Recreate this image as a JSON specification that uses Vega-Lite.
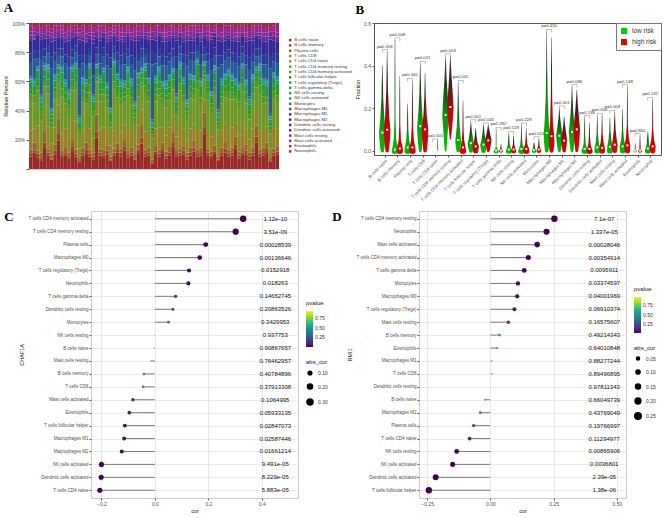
{
"$schema":"https://vega.github.io/schema/vega-lite/v6.json",
"background":"white",
"padding":2,
"config":{
 "font":"Liberation Sans",
 "view":{"stroke":null},
 "title":{"font":"Liberation Serif","fontSize":13,"fontWeight":"bold","anchor":"start","frame":"bounds","color":"#000"},
 "axis":{"labelFont":"Liberation Sans","titleFont":"Liberation Sans","labelColor":"#4d4d4d","titleColor":"#222","titleFontWeight":"normal","tickColor":"#555","domainColor":"#555","labelFontSize":5,"titleFontSize":5.5,"tickSize":2,"labelPadding":1.5,"titlePadding":3},
 "legend":{"labelFont":"Liberation Sans","titleFont":"Liberation Sans","titleFontWeight":"normal","labelFontSize":5,"titleFontSize":6,"labelColor":"#333","titleColor":"#222","layout":{"right":{"anchor":"middle","direction":"vertical","margin":8}}}
},
"datasets":{
"samples":[
{"id":1,"a":9,"b":2,"c":3,"d":14,"f":22,"g":4,"h":4,"i":5,"k":2,"l":1,"m":1,"n":10,"o":7,"p":9,"q":2,"r":2,"s":3,"t":4,"v":2},
{"id":2,"a":12,"b":1,"c":6,"d":10,"f":18,"g":6,"h":3,"i":4,"k":2,"l":2,"m":1,"n":14,"o":6,"p":8,"q":1,"r":2,"s":3,"t":3,"v":3},
{"id":3,"a":8,"b":3,"c":2,"d":18,"f":25,"g":3,"h":5,"i":6,"k":1,"l":1,"m":1,"n":6,"o":5,"p":10,"q":2,"r":1,"s":2,"t":3,"v":2},
{"id":4,"a":6,"b":2,"c":4,"d":8,"f":15,"g":8,"h":3,"i":3,"k":2,"l":2,"m":2,"n":25,"o":8,"p":8,"q":2,"r":2,"s":2,"t":3,"v":3},
{"id":5,"a":15,"b":4,"c":8,"d":12,"f":20,"g":3,"h":4,"i":5,"k":2,"l":1,"m":1,"n":5,"o":6,"p":7,"q":1,"r":2,"s":3,"t":3,"v":2},
{"id":6,"a":10,"b":2,"c":3,"d":16,"f":24,"g":5,"h":5,"i":6,"k":2,"l":2,"m":1,"n":8,"o":6,"p":5,"q":2,"r":1,"s":2,"t":4,"v":2},
{"id":7,"a":7,"b":1,"c":2,"d":9,"f":12,"g":4,"h":3,"i":3,"k":2,"l":2,"m":1,"n":30,"o":9,"p":11,"q":2,"r":2,"s":3,"t":3,"v":4},
{"id":8,"a":11,"b":3,"c":4,"d":13,"f":21,"g":5,"h":4,"i":5,"k":2,"l":2,"m":1,"n":9,"o":7,"p":9,"q":2,"r":2,"s":3,"t":4,"v":2},
{"id":9,"a":20,"b":5,"c":10,"d":10,"f":15,"g":3,"h":3,"i":4,"k":1,"l":1,"m":1,"n":6,"o":5,"p":8,"q":1,"r":2,"s":2,"t":3,"v":2},
{"id":10,"a":9,"b":2,"c":3,"d":12,"f":28,"g":6,"h":5,"i":7,"k":2,"l":2,"m":1,"n":7,"o":6,"p":7,"q":2,"r":2,"s":3,"t":3,"v":2},
{"id":11,"a":10,"b":2,"c":4,"d":15,"f":19,"g":4,"h":4,"i":5,"k":2,"l":2,"m":1,"n":12,"o":7,"p":10,"q":2,"r":2,"s":3,"t":4,"v":3},
{"id":12,"a":8,"b":1,"c":3,"d":11,"f":17,"g":5,"h":3,"i":4,"k":3,"l":2,"m":2,"n":16,"o":8,"p":12,"q":2,"r":2,"s":3,"t":3,"v":3},
{"id":13,"a":13,"b":3,"c":5,"d":14,"f":22,"g":4,"h":4,"i":6,"k":2,"l":1,"m":1,"n":6,"o":6,"p":8,"q":1,"r":2,"s":3,"t":3,"v":2},
{"id":14,"a":9,"b":2,"c":3,"d":20,"f":23,"g":5,"h":5,"i":5,"k":2,"l":2,"m":1,"n":7,"o":5,"p":6,"q":2,"r":1,"s":2,"t":3,"v":2},
{"id":15,"a":5,"b":1,"c":2,"d":7,"f":10,"g":3,"h":2,"i":3,"k":2,"l":2,"m":2,"n":35,"o":9,"p":10,"q":2,"r":3,"s":2,"t":3,"v":4},
{"id":16,"a":10,"b":2,"c":4,"d":13,"f":20,"g":5,"h":4,"i":5,"k":2,"l":2,"m":1,"n":10,"o":7,"p":10,"q":2,"r":2,"s":3,"t":4,"v":2},
{"id":17,"a":12,"b":3,"c":5,"d":12,"f":18,"g":4,"h":4,"i":5,"k":2,"l":2,"m":1,"n":11,"o":7,"p":9,"q":2,"r":2,"s":4,"t":5,"v":3},
{"id":18,"a":9,"b":2,"c":3,"d":15,"f":26,"g":6,"h":5,"i":6,"k":2,"l":1,"m":1,"n":6,"o":5,"p":7,"q":2,"r":2,"s":2,"t":3,"v":2},
{"id":19,"a":7,"b":2,"c":3,"d":10,"f":16,"g":4,"h":3,"i":4,"k":2,"l":2,"m":1,"n":14,"o":9,"p":14,"q":3,"r":2,"s":3,"t":4,"v":3},
{"id":20,"a":22,"b":4,"c":12,"d":9,"f":14,"g":3,"h":3,"i":4,"k":1,"l":1,"m":1,"n":6,"o":5,"p":7,"q":1,"r":2,"s":2,"t":3,"v":2},
{"id":21,"a":10,"b":2,"c":3,"d":14,"f":21,"g":5,"h":4,"i":5,"k":2,"l":2,"m":1,"n":9,"o":7,"p":10,"q":2,"r":2,"s":3,"t":4,"v":2},
{"id":22,"a":8,"b":2,"c":4,"d":16,"f":24,"g":4,"h":5,"i":6,"k":2,"l":2,"m":1,"n":8,"o":6,"p":8,"q":2,"r":1,"s":2,"t":3,"v":2},
{"id":23,"a":11,"b":3,"c":4,"d":11,"f":18,"g":5,"h":4,"i":4,"k":2,"l":2,"m":2,"n":13,"o":8,"p":10,"q":2,"r":2,"s":3,"t":4,"v":3},
{"id":24,"a":6,"b":1,"c":2,"d":8,"f":13,"g":4,"h":3,"i":3,"k":2,"l":2,"m":1,"n":28,"o":8,"p":12,"q":2,"r":2,"s":3,"t":3,"v":3},
{"id":25,"a":10,"b":2,"c":3,"d":13,"f":30,"g":6,"h":5,"i":7,"k":2,"l":1,"m":1,"n":5,"o":5,"p":6,"q":2,"r":2,"s":2,"t":3,"v":2},
{"id":26,"a":12,"b":2,"c":5,"d":15,"f":19,"g":4,"h":4,"i":5,"k":2,"l":2,"m":1,"n":9,"o":6,"p":9,"q":2,"r":2,"s":3,"t":4,"v":2},
{"id":27,"a":9,"b":3,"c":3,"d":12,"f":20,"g":5,"h":4,"i":5,"k":2,"l":2,"m":1,"n":11,"o":7,"p":10,"q":2,"r":2,"s":3,"t":4,"v":3},
{"id":28,"a":14,"b":3,"c":6,"d":10,"f":17,"g":4,"h":3,"i":4,"k":2,"l":2,"m":1,"n":12,"o":8,"p":9,"q":2,"r":2,"s":3,"t":4,"v":3},
{"id":29,"a":8,"b":2,"c":3,"d":18,"f":22,"g":5,"h":5,"i":6,"k":2,"l":2,"m":1,"n":7,"o":6,"p":8,"q":2,"r":1,"s":2,"t":3,"v":2},
{"id":30,"a":10,"b":2,"c":4,"d":12,"f":20,"g":5,"h":4,"i":5,"k":2,"l":2,"m":1,"n":10,"o":7,"p":10,"q":2,"r":2,"s":3,"t":4,"v":3},
{"id":31,"a":7,"b":1,"c":3,"d":9,"f":14,"g":4,"h":3,"i":4,"k":2,"l":2,"m":2,"n":22,"o":9,"p":13,"q":2,"r":2,"s":3,"t":3,"v":3},
{"id":32,"a":11,"b":3,"c":4,"d":14,"f":21,"g":5,"h":4,"i":5,"k":2,"l":1,"m":1,"n":8,"o":6,"p":9,"q":2,"r":2,"s":3,"t":4,"v":2},
{"id":33,"a":18,"b":4,"c":9,"d":11,"f":16,"g":3,"h":3,"i":4,"k":2,"l":1,"m":1,"n":7,"o":6,"p":8,"q":1,"r":2,"s":2,"t":3,"v":2},
{"id":34,"a":9,"b":2,"c":3,"d":13,"f":27,"g":6,"h":5,"i":6,"k":2,"l":2,"m":1,"n":6,"o":5,"p":7,"q":2,"r":2,"s":2,"t":3,"v":2},
{"id":35,"a":10,"b":2,"c":4,"d":15,"f":19,"g":4,"h":4,"i":5,"k":2,"l":2,"m":1,"n":10,"o":7,"p":9,"q":2,"r":2,"s":3,"t":4,"v":3},
{"id":36,"a":4,"b":1,"c":2,"d":6,"f":9,"g":3,"h":2,"i":3,"k":2,"l":2,"m":2,"n":40,"o":9,"p":9,"q":2,"r":2,"s":2,"t":3,"v":3},
{"id":37,"a":11,"b":2,"c":4,"d":13,"f":20,"g":5,"h":4,"i":5,"k":2,"l":2,"m":1,"n":9,"o":7,"p":10,"q":2,"r":2,"s":3,"t":4,"v":2},
{"id":38,"a":9,"b":2,"c":3,"d":16,"f":23,"g":5,"h":5,"i":6,"k":2,"l":2,"m":1,"n":7,"o":6,"p":8,"q":2,"r":1,"s":2,"t":3,"v":2},
{"id":39,"a":12,"b":3,"c":5,"d":11,"f":18,"g":4,"h":4,"i":4,"k":2,"l":2,"m":1,"n":12,"o":8,"p":10,"q":2,"r":2,"s":3,"t":4,"v":3},
{"id":40,"a":8,"b":2,"c":3,"d":12,"f":21,"g":5,"h":4,"i":5,"k":3,"l":2,"m":1,"n":11,"o":7,"p":11,"q":2,"r":2,"s":3,"t":4,"v":3},
{"id":41,"a":10,"b":2,"c":4,"d":14,"f":20,"g":5,"h":4,"i":5,"k":2,"l":2,"m":1,"n":9,"o":6,"p":9,"q":2,"r":2,"s":3,"t":4,"v":2},
{"id":42,"a":16,"b":3,"c":7,"d":12,"f":18,"g":4,"h":3,"i":4,"k":2,"l":1,"m":1,"n":8,"o":6,"p":8,"q":1,"r":2,"s":2,"t":3,"v":2},
{"id":43,"a":9,"b":2,"c":3,"d":10,"f":15,"g":4,"h":3,"i":4,"k":2,"l":2,"m":2,"n":18,"o":9,"p":12,"q":2,"r":2,"s":3,"t":3,"v":3},
{"id":44,"a":10,"b":2,"c":3,"d":17,"f":25,"g":5,"h":5,"i":6,"k":2,"l":2,"m":1,"n":6,"o":5,"p":7,"q":2,"r":1,"s":2,"t":3,"v":2},
{"id":45,"a":11,"b":3,"c":4,"d":13,"f":20,"g":5,"h":4,"i":5,"k":2,"l":2,"m":1,"n":10,"o":7,"p":10,"q":2,"r":2,"s":3,"t":4,"v":3},
{"id":46,"a":7,"b":2,"c":3,"d":9,"f":14,"g":4,"h":3,"i":4,"k":2,"l":2,"m":1,"n":24,"o":8,"p":11,"q":2,"r":2,"s":3,"t":3,"v":3},
{"id":47,"a":10,"b":2,"c":4,"d":14,"f":22,"g":5,"h":4,"i":5,"k":2,"l":2,"m":1,"n":9,"o":6,"p":9,"q":2,"r":2,"s":3,"t":4,"v":2},
{"id":48,"a":13,"b":3,"c":5,"d":12,"f":19,"g":4,"h":4,"i":5,"k":2,"l":2,"m":1,"n":10,"o":7,"p":9,"q":2,"r":2,"s":3,"t":4,"v":2},
{"id":49,"a":9,"b":2,"c":3,"d":15,"f":29,"g":6,"h":5,"i":7,"k":2,"l":1,"m":1,"n":5,"o":5,"p":6,"q":2,"r":1,"s":2,"t":3,"v":2},
{"id":50,"a":10,"b":2,"c":4,"d":13,"f":20,"g":5,"h":4,"i":5,"k":2,"l":2,"m":1,"n":11,"o":7,"p":10,"q":2,"r":2,"s":3,"t":4,"v":3},
{"id":51,"a":24,"b":5,"c":11,"d":9,"f":14,"g":3,"h":3,"i":4,"k":1,"l":1,"m":1,"n":5,"o":5,"p":7,"q":1,"r":2,"s":2,"t":3,"v":2},
{"id":52,"a":10,"b":2,"c":3,"d":14,"f":21,"g":5,"h":4,"i":5,"k":2,"l":2,"m":1,"n":9,"o":6,"p":9,"q":2,"r":2,"s":3,"t":4,"v":2},
{"id":53,"a":8,"b":2,"c":3,"d":11,"f":17,"g":4,"h":3,"i":4,"k":2,"l":2,"m":1,"n":15,"o":8,"p":13,"q":2,"r":2,"s":3,"t":4,"v":3},
{"id":54,"a":11,"b":2,"c":4,"d":16,"f":22,"g":5,"h":5,"i":6,"k":2,"l":2,"m":1,"n":7,"o":6,"p":8,"q":2,"r":1,"s":2,"t":3,"v":2},
{"id":55,"a":6,"b":1,"c":2,"d":8,"f":12,"g":3,"h":3,"i":3,"k":2,"l":2,"m":2,"n":31,"o":9,"p":11,"q":2,"r":2,"s":3,"t":3,"v":3},
{"id":56,"a":10,"b":2,"c":4,"d":13,"f":20,"g":5,"h":4,"i":5,"k":2,"l":2,"m":1,"n":10,"o":7,"p":10,"q":2,"r":2,"s":3,"t":4,"v":3},
{"id":57,"a":12,"b":3,"c":5,"d":14,"f":19,"g":4,"h":4,"i":5,"k":2,"l":2,"m":1,"n":9,"o":6,"p":9,"q":2,"r":2,"s":3,"t":4,"v":2},
{"id":58,"a":9,"b":2,"c":3,"d":12,"f":24,"g":6,"h":5,"i":6,"k":2,"l":2,"m":1,"n":8,"o":6,"p":8,"q":2,"r":2,"s":2,"t":3,"v":2},
{"id":59,"a":10,"b":2,"c":4,"d":15,"f":21,"g":5,"h":4,"i":5,"k":2,"l":2,"m":1,"n":9,"o":7,"p":9,"q":2,"r":2,"s":3,"t":4,"v":2},
{"id":60,"a":15,"b":3,"c":6,"d":11,"f":17,"g":4,"h":3,"i":4,"k":2,"l":2,"m":1,"n":11,"o":7,"p":9,"q":2,"r":2,"s":3,"t":4,"v":3},
{"id":61,"a":8,"b":2,"c":3,"d":13,"f":20,"g":5,"h":4,"i":5,"k":2,"l":2,"m":1,"n":12,"o":8,"p":11,"q":2,"r":2,"s":3,"t":4,"v":3},
{"id":62,"a":10,"b":2,"c":3,"d":18,"f":23,"g":5,"h":5,"i":6,"k":2,"l":1,"m":1,"n":7,"o":5,"p":7,"q":2,"r":1,"s":2,"t":3,"v":2},
{"id":63,"a":11,"b":3,"c":4,"d":12,"f":19,"g":4,"h":4,"i":5,"k":2,"l":2,"m":1,"n":11,"o":7,"p":10,"q":2,"r":2,"s":3,"t":4,"v":3},
{"id":64,"a":7,"b":2,"c":3,"d":10,"f":15,"g":4,"h":3,"i":4,"k":2,"l":2,"m":2,"n":20,"o":9,"p":13,"q":2,"r":2,"s":3,"t":3,"v":3},
{"id":65,"a":10,"b":2,"c":4,"d":14,"f":21,"g":5,"h":4,"i":5,"k":2,"l":2,"m":1,"n":9,"o":6,"p":10,"q":2,"r":2,"s":3,"t":4,"v":2},
{"id":66,"a":19,"b":4,"c":8,"d":11,"f":16,"g":4,"h":3,"i":4,"k":2,"l":1,"m":1,"n":7,"o":6,"p":8,"q":1,"r":2,"s":2,"t":3,"v":2},
{"id":67,"a":9,"b":2,"c":3,"d":14,"f":26,"g":6,"h":5,"i":6,"k":2,"l":2,"m":1,"n":6,"o":5,"p":7,"q":2,"r":2,"s":2,"t":3,"v":2},
{"id":68,"a":10,"b":2,"c":4,"d":13,"f":20,"g":5,"h":4,"i":5,"k":2,"l":2,"m":1,"n":10,"o":7,"p":10,"q":2,"r":2,"s":3,"t":4,"v":3},
{"id":69,"a":12,"b":3,"c":5,"d":12,"f":18,"g":4,"h":4,"i":5,"k":2,"l":2,"m":1,"n":11,"o":7,"p":10,"q":2,"r":2,"s":3,"t":4,"v":3},
{"id":70,"a":5,"b":1,"c":2,"d":7,"f":11,"g":3,"h":2,"i":3,"k":2,"l":2,"m":2,"n":33,"o":9,"p":12,"q":2,"r":2,"s":2,"t":3,"v":3},
{"id":71,"a":10,"b":2,"c":3,"d":15,"f":22,"g":5,"h":4,"i":5,"k":2,"l":2,"m":1,"n":8,"o":6,"p":9,"q":2,"r":2,"s":3,"t":4,"v":2},
{"id":72,"a":11,"b":2,"c":4,"d":13,"f":20,"g":5,"h":4,"i":5,"k":2,"l":2,"m":1,"n":10,"o":7,"p":9,"q":2,"r":2,"s":3,"t":4,"v":3}
],
"vio":[
{"t":"a","g":"L","y":0,"w":0.5},{"t":"a","g":"L","y":0.05,"w":0.9},{"t":"a","g":"L","y":0.09,"w":1},{"t":"a","g":"L","y":0.15,"w":0.6},{"t":"a","g":"L","y":0.25,"w":0.2},{"t":"a","g":"L","y":0.40,"w":0},
{"t":"a","g":"H","y":0,"w":0.5},{"t":"a","g":"H","y":0.06,"w":0.9},{"t":"a","g":"H","y":0.10,"w":1},{"t":"a","g":"H","y":0.16,"w":0.6},{"t":"a","g":"H","y":0.28,"w":0.2},{"t":"a","g":"H","y":0.465,"w":0},
{"t":"b","g":"L","y":0,"w":1},{"t":"b","g":"L","y":0.02,"w":0.7},{"t":"b","g":"L","y":0.06,"w":0.3},{"t":"b","g":"L","y":0.15,"w":0.1},{"t":"b","g":"L","y":0.52,"w":0},
{"t":"b","g":"H","y":0,"w":1},{"t":"b","g":"H","y":0.02,"w":0.8},{"t":"b","g":"H","y":0.05,"w":0.3},{"t":"b","g":"H","y":0.12,"w":0.1},{"t":"b","g":"H","y":0.35,"w":0},
{"t":"c","g":"L","y":0,"w":1},{"t":"c","g":"L","y":0.02,"w":0.8},{"t":"c","g":"L","y":0.05,"w":0.4},{"t":"c","g":"L","y":0.1,"w":0.15},{"t":"c","g":"L","y":0.22,"w":0},
{"t":"c","g":"H","y":0,"w":1},{"t":"c","g":"H","y":0.02,"w":0.8},{"t":"c","g":"H","y":0.05,"w":0.4},{"t":"c","g":"H","y":0.12,"w":0.12},{"t":"c","g":"H","y":0.33,"w":0},
{"t":"d","g":"L","y":0,"w":0.4},{"t":"d","g":"L","y":0.06,"w":0.8},{"t":"d","g":"L","y":0.11,"w":1},{"t":"d","g":"L","y":0.17,"w":0.6},{"t":"d","g":"L","y":0.27,"w":0.2},{"t":"d","g":"L","y":0.41,"w":0},
{"t":"d","g":"H","y":0,"w":0.5},{"t":"d","g":"H","y":0.06,"w":0.9},{"t":"d","g":"H","y":0.10,"w":1},{"t":"d","g":"H","y":0.16,"w":0.5},{"t":"d","g":"H","y":0.25,"w":0.15},{"t":"d","g":"H","y":0.365,"w":0},
{"t":"e","g":"L","y":0,"w":0.2},{"t":"e","g":"L","y":0.003,"w":0},
{"t":"e","g":"H","y":0,"w":0.2},{"t":"e","g":"H","y":0.01,"w":0.05},{"t":"e","g":"H","y":0.05,"w":0},
{"t":"f","g":"L","y":0,"w":0.2},{"t":"f","g":"L","y":0.08,"w":0.6},{"t":"f","g":"L","y":0.16,"w":1},{"t":"f","g":"L","y":0.25,"w":0.7},{"t":"f","g":"L","y":0.33,"w":0.3},{"t":"f","g":"L","y":0.44,"w":0},
{"t":"f","g":"H","y":0.055,"w":0.1},{"t":"f","g":"H","y":0.12,"w":0.6},{"t":"f","g":"H","y":0.2,"w":1},{"t":"f","g":"H","y":0.27,"w":0.7},{"t":"f","g":"H","y":0.35,"w":0.3},{"t":"f","g":"H","y":0.445,"w":0},
{"t":"g","g":"L","y":0,"w":0.5},{"t":"g","g":"L","y":0.04,"w":0.9},{"t":"g","g":"L","y":0.07,"w":0.7},{"t":"g","g":"L","y":0.12,"w":0.35},{"t":"g","g":"L","y":0.2,"w":0.12},{"t":"g","g":"L","y":0.32,"w":0},
{"t":"g","g":"H","y":0,"w":1},{"t":"g","g":"H","y":0.02,"w":0.7},{"t":"g","g":"H","y":0.05,"w":0.3},{"t":"g","g":"H","y":0.1,"w":0.1},{"t":"g","g":"H","y":0.235,"w":0},
{"t":"h","g":"L","y":0,"w":0.6},{"t":"h","g":"L","y":0.03,"w":1},{"t":"h","g":"L","y":0.06,"w":0.6},{"t":"h","g":"L","y":0.09,"w":0.25},{"t":"h","g":"L","y":0.135,"w":0},
{"t":"h","g":"H","y":0,"w":0.8},{"t":"h","g":"H","y":0.02,"w":1},{"t":"h","g":"H","y":0.04,"w":0.5},{"t":"h","g":"H","y":0.07,"w":0.2},{"t":"h","g":"H","y":0.105,"w":0},
{"t":"i","g":"L","y":0,"w":0.7},{"t":"i","g":"L","y":0.025,"w":1},{"t":"i","g":"L","y":0.05,"w":0.6},{"t":"i","g":"L","y":0.08,"w":0.25},{"t":"i","g":"L","y":0.12,"w":0},
{"t":"i","g":"H","y":0,"w":0.4},{"t":"i","g":"H","y":0.03,"w":0.8},{"t":"i","g":"H","y":0.05,"w":1},{"t":"i","g":"H","y":0.08,"w":0.5},{"t":"i","g":"H","y":0.12,"w":0},
{"t":"j","g":"L","y":0,"w":0.8},{"t":"j","g":"L","y":0.005,"w":0.3},{"t":"j","g":"L","y":0.02,"w":0.05},{"t":"j","g":"L","y":0.10,"w":0},
{"t":"j","g":"H","y":0,"w":0.6},{"t":"j","g":"H","y":0.005,"w":0.2},{"t":"j","g":"H","y":0.03,"w":0},
{"t":"k","g":"L","y":0,"w":0.9},{"t":"k","g":"L","y":0.01,"w":0.6},{"t":"k","g":"L","y":0.03,"w":0.2},{"t":"k","g":"L","y":0.08,"w":0},
{"t":"k","g":"H","y":0,"w":0.8},{"t":"k","g":"H","y":0.01,"w":0.5},{"t":"k","g":"H","y":0.03,"w":0.15},{"t":"k","g":"H","y":0.07,"w":0},
{"t":"l","g":"L","y":0,"w":1},{"t":"l","g":"L","y":0.01,"w":0.7},{"t":"l","g":"L","y":0.03,"w":0.3},{"t":"l","g":"L","y":0.06,"w":0.1},{"t":"l","g":"L","y":0.12,"w":0},
{"t":"l","g":"H","y":0,"w":1},{"t":"l","g":"H","y":0.01,"w":0.8},{"t":"l","g":"H","y":0.03,"w":0.3},{"t":"l","g":"H","y":0.06,"w":0.1},{"t":"l","g":"H","y":0.105,"w":0},
{"t":"m","g":"L","y":0,"w":0.7},{"t":"m","g":"L","y":0.01,"w":0.3},{"t":"m","g":"L","y":0.04,"w":0},
{"t":"m","g":"H","y":0,"w":0.7},{"t":"m","g":"H","y":0.01,"w":0.4},{"t":"m","g":"H","y":0.025,"w":0.15},{"t":"m","g":"H","y":0.055,"w":0},
{"t":"n","g":"L","y":0,"w":0.5},{"t":"n","g":"L","y":0.04,"w":0.8},{"t":"n","g":"L","y":0.08,"w":0.9},{"t":"n","g":"L","y":0.14,"w":0.6},{"t":"n","g":"L","y":0.25,"w":0.25},{"t":"n","g":"L","y":0.4,"w":0.07},{"t":"n","g":"L","y":0.56,"w":0},
{"t":"n","g":"H","y":0,"w":0.6},{"t":"n","g":"H","y":0.04,"w":0.9},{"t":"n","g":"H","y":0.07,"w":0.8},{"t":"n","g":"H","y":0.13,"w":0.4},{"t":"n","g":"H","y":0.25,"w":0.15},{"t":"n","g":"H","y":0.53,"w":0},
{"t":"o","g":"L","y":0,"w":0.4},{"t":"o","g":"L","y":0.04,"w":0.8},{"t":"o","g":"L","y":0.07,"w":1},{"t":"o","g":"L","y":0.11,"w":0.6},{"t":"o","g":"L","y":0.15,"w":0.2},{"t":"o","g":"L","y":0.20,"w":0},
{"t":"o","g":"H","y":0,"w":0.5},{"t":"o","g":"H","y":0.03,"w":0.8},{"t":"o","g":"H","y":0.05,"w":0.9},{"t":"o","g":"H","y":0.08,"w":0.6},{"t":"o","g":"H","y":0.12,"w":0.2},{"t":"o","g":"H","y":0.16,"w":0},
{"t":"p","g":"L","y":0,"w":0.4},{"t":"p","g":"L","y":0.05,"w":0.8},{"t":"p","g":"L","y":0.09,"w":1},{"t":"p","g":"L","y":0.14,"w":0.6},{"t":"p","g":"L","y":0.2,"w":0.25},{"t":"p","g":"L","y":0.30,"w":0},
{"t":"p","g":"H","y":0,"w":0.4},{"t":"p","g":"H","y":0.05,"w":0.8},{"t":"p","g":"H","y":0.10,"w":1},{"t":"p","g":"H","y":0.15,"w":0.7},{"t":"p","g":"H","y":0.21,"w":0.3},{"t":"p","g":"H","y":0.285,"w":0},
{"t":"q","g":"L","y":0,"w":1},{"t":"q","g":"L","y":0.01,"w":0.7},{"t":"q","g":"L","y":0.03,"w":0.3},{"t":"q","g":"L","y":0.07,"w":0.1},{"t":"q","g":"L","y":0.155,"w":0},
{"t":"q","g":"H","y":0,"w":1},{"t":"q","g":"H","y":0.01,"w":0.7},{"t":"q","g":"H","y":0.03,"w":0.3},{"t":"q","g":"H","y":0.07,"w":0.1},{"t":"q","g":"H","y":0.13,"w":0},
{"t":"r","g":"L","y":0,"w":0.9},{"t":"r","g":"L","y":0.015,"w":0.8},{"t":"r","g":"L","y":0.04,"w":0.4},{"t":"r","g":"L","y":0.08,"w":0.12},{"t":"r","g":"L","y":0.16,"w":0},
{"t":"r","g":"H","y":0,"w":0.9},{"t":"r","g":"H","y":0.015,"w":0.8},{"t":"r","g":"H","y":0.04,"w":0.4},{"t":"r","g":"H","y":0.08,"w":0.12},{"t":"r","g":"H","y":0.165,"w":0},
{"t":"s","g":"L","y":0,"w":0.9},{"t":"s","g":"L","y":0.02,"w":0.8},{"t":"s","g":"L","y":0.05,"w":0.4},{"t":"s","g":"L","y":0.09,"w":0.12},{"t":"s","g":"L","y":0.155,"w":0},
{"t":"s","g":"H","y":0,"w":0.7},{"t":"s","g":"H","y":0.025,"w":0.9},{"t":"s","g":"H","y":0.05,"w":0.6},{"t":"s","g":"H","y":0.1,"w":0.2},{"t":"s","g":"H","y":0.18,"w":0},
{"t":"t","g":"L","y":0,"w":0.8},{"t":"t","g":"L","y":0.02,"w":0.9},{"t":"t","g":"L","y":0.05,"w":0.4},{"t":"t","g":"L","y":0.1,"w":0.1},{"t":"t","g":"L","y":0.195,"w":0},
{"t":"t","g":"H","y":0,"w":0.8},{"t":"t","g":"H","y":0.025,"w":0.9},{"t":"t","g":"H","y":0.06,"w":0.4},{"t":"t","g":"H","y":0.12,"w":0.1},{"t":"t","g":"H","y":0.30,"w":0},
{"t":"u","g":"L","y":0,"w":0.5},{"t":"u","g":"L","y":0.003,"w":0.1},{"t":"u","g":"L","y":0.035,"w":0},
{"t":"u","g":"H","y":0,"w":0.6},{"t":"u","g":"H","y":0.005,"w":0.15},{"t":"u","g":"H","y":0.07,"w":0},
{"t":"v","g":"L","y":0,"w":0.9},{"t":"v","g":"L","y":0.01,"w":0.7},{"t":"v","g":"L","y":0.03,"w":0.3},{"t":"v","g":"L","y":0.09,"w":0},
{"t":"v","g":"H","y":0,"w":0.8},{"t":"v","g":"H","y":0.02,"w":0.9},{"t":"v","g":"H","y":0.05,"w":0.4},{"t":"v","g":"H","y":0.1,"w":0.1},{"t":"v","g":"H","y":0.24,"w":0}
],
"med":[
{"t":"a","l":0.085,"h":0.098},{"t":"b","l":0.005,"h":0.01},{"t":"c","l":0.015,"h":0.015},{"t":"d","l":0.115,"h":0.10},{"t":"e","l":0,"h":0},{"t":"f","l":0.168,"h":0.205},{"t":"g","l":0.05,"h":0.015},{"t":"h","l":0.035,"h":0.02},{"t":"i","l":0.028,"h":0.048},{"t":"j","l":0,"h":0},{"t":"k","l":0.005,"h":0.005},{"t":"l","l":0.008,"h":0.008},{"t":"m","l":0.002,"h":0.005},{"t":"n","l":0.083,"h":0.068},{"t":"o","l":0.07,"h":0.047},{"t":"p","l":0.088,"h":0.10},{"t":"q","l":0.008,"h":0.008},{"t":"r","l":0.015,"h":0.013},{"t":"s","l":0.018,"h":0.028},{"t":"t","l":0.02,"h":0.025},{"t":"u","l":0,"h":0},{"t":"v","l":0.01,"h":0.02}
],
"pv":[
{"t":"a","p":"p=0.058","y":0.475},{"t":"b","p":"p=0.008","y":0.53},{"t":"c","p":"p=0.340","y":0.34},{"t":"d","p":"p=0.021","y":0.42},{"t":"e","p":"p=0.001","y":0.055},{"t":"f","p":"p=0.003","y":0.455},{"t":"g","p":"p=0.001","y":0.33},{"t":"h","p":"p=0.001","y":0.145},{"t":"i","p":"p=0.043","y":0.13},{"t":"j","p":"p=0.282","y":0.11},{"t":"k","p":"p=0.129","y":0.09},{"t":"l","p":"p=0.228","y":0.13},{"t":"m","p":"p=0.001","y":0.065},{"t":"n","p":"p=0.450","y":0.57},{"t":"o","p":"p=0.001","y":0.21},{"t":"p","p":"p=0.086","y":0.31},{"t":"q","p":"p=0.138","y":0.165},{"t":"r","p":"p=0.004","y":0.175},{"t":"s","p":"p=0.008","y":0.19},{"t":"t","p":"p=0.148","y":0.31},{"t":"u","p":"p=0.860","y":0.08},{"t":"v","p":"p=0.232","y":0.25}
],
"chaf":[
{"cell":"T cells CD4 memory activated","cor":0.33,"abs_cor":0.33,"p":1.12e-10,"ptxt":"1.12e-10"},
{"cell":"T cells CD4 memory resting","cor":0.302,"abs_cor":0.302,"p":3.51e-9,"ptxt":"3.51e-09"},
{"cell":"Plasma cells","cor":0.19,"abs_cor":0.19,"p":0.00028539,"ptxt":"0.00028539"},
{"cell":"Macrophages M0","cor":0.1675,"abs_cor":0.1675,"p":0.00136646,"ptxt":"0.00136646"},
{"cell":"T cells regulatory (Tregs)","cor":0.1275,"abs_cor":0.1275,"p":0.0152918,"ptxt":"0.0152918"},
{"cell":"Neutrophils","cor":0.125,"abs_cor":0.125,"p":0.018263,"ptxt":"0.018263"},
{"cell":"T cells gamma delta","cor":0.0775,"abs_cor":0.0775,"p":0.14652745,"ptxt":"0.14652745"},
{"cell":"Dendritic cells resting","cor":0.0675,"abs_cor":0.0675,"p":0.20863526,"ptxt":"0.20863526"},
{"cell":"Monocytes","cor":0.051,"abs_cor":0.051,"p":0.3429953,"ptxt":"0.3429953"},
{"cell":"NK cells resting","cor":-0.0025,"abs_cor":0.0025,"p":0.937753,"ptxt":"0.937753"},
{"cell":"B cells naive","cor":-0.004,"abs_cor":0.004,"p":0.90867657,"ptxt":"0.90867657"},
{"cell":"Mast cells resting","cor":-0.014,"abs_cor":0.014,"p":0.76462957,"ptxt":"0.76462957"},
{"cell":"B cells memory","cor":-0.041,"abs_cor":0.041,"p":0.40784896,"ptxt":"0.40784896"},
{"cell":"T cells CD8","cor":-0.044,"abs_cor":0.044,"p":0.37913308,"ptxt":"0.37913308"},
{"cell":"Mast cells activated","cor":-0.0825,"abs_cor":0.0825,"p":0.1064995,"ptxt":"0.1064995"},
{"cell":"Eosinophils","cor":-0.096,"abs_cor":0.096,"p":0.05933135,"ptxt":"0.05933135"},
{"cell":"T cells follicular helper","cor":-0.1125,"abs_cor":0.1125,"p":0.02847073,"ptxt":"0.02847073"},
{"cell":"Macrophages M1","cor":-0.115,"abs_cor":0.115,"p":0.02587446,"ptxt":"0.02587446"},
{"cell":"Macrophages M2","cor":-0.124,"abs_cor":0.124,"p":0.01661214,"ptxt":"0.01661214"},
{"cell":"NK cells activated","cor":-0.2,"abs_cor":0.2,"p":9.491e-5,"ptxt":"9.491e-05"},
{"cell":"Dendritic cells activated","cor":-0.201,"abs_cor":0.201,"p":8.229e-5,"ptxt":"8.229e-05"},
{"cell":"T cells CD4 naive","cor":-0.206,"abs_cor":0.206,"p":5.883e-5,"ptxt":"5.883e-05"}
],
"rmi":[
{"cell":"T cells CD4 memory resting","cor":0.253,"abs_cor":0.253,"p":7.1e-7,"ptxt":"7.1e-07"},
{"cell":"Neutrophils","cor":0.222,"abs_cor":0.222,"p":1.337e-5,"ptxt":"1.337e-05"},
{"cell":"Mast cells activated","cor":0.185,"abs_cor":0.185,"p":0.00028046,"ptxt":"0.00028046"},
{"cell":"T cells CD4 memory activated","cor":0.15,"abs_cor":0.15,"p":0.00354914,"ptxt":"0.00354914"},
{"cell":"T cells gamma delta","cor":0.134,"abs_cor":0.134,"p":0.0095911,"ptxt":"0.0095911"},
{"cell":"Monocytes","cor":0.109,"abs_cor":0.109,"p":0.03374597,"ptxt":"0.03374597"},
{"cell":"Macrophages M0","cor":0.106,"abs_cor":0.106,"p":0.04001969,"ptxt":"0.04001969"},
{"cell":"T cells regulatory (Tregs)","cor":0.095,"abs_cor":0.095,"p":0.06910374,"ptxt":"0.06910374"},
{"cell":"Mast cells resting","cor":0.071,"abs_cor":0.071,"p":0.16575607,"ptxt":"0.16575607"},
{"cell":"B cells memory","cor":0.036,"abs_cor":0.036,"p":0.49214343,"ptxt":"0.49214343"},
{"cell":"Eosinophils","cor":0.026,"abs_cor":0.026,"p":0.64010848,"ptxt":"0.64010848"},
{"cell":"Macrophages M1","cor":0.008,"abs_cor":0.008,"p":0.88277244,"ptxt":"0.88277244"},
{"cell":"T cells CD8","cor":0.008,"abs_cor":0.008,"p":0.89496895,"ptxt":"0.89496895"},
{"cell":"Dendritic cells resting","cor":0.0015,"abs_cor":0.0015,"p":0.97811343,"ptxt":"0.97811343"},
{"cell":"B cells naive","cor":-0.021,"abs_cor":0.021,"p":0.66049739,"ptxt":"0.66049739"},
{"cell":"Macrophages M2","cor":-0.04,"abs_cor":0.04,"p":0.43769049,"ptxt":"0.43769049"},
{"cell":"Plasma cells","cor":-0.066,"abs_cor":0.066,"p":0.19766997,"ptxt":"0.19766997"},
{"cell":"T cells CD4 naive","cor":-0.082,"abs_cor":0.082,"p":0.11294977,"ptxt":"0.11294977"},
{"cell":"NK cells resting","cor":-0.133,"abs_cor":0.133,"p":0.00865906,"ptxt":"0.00865906"},
{"cell":"NK cells activated","cor":-0.149,"abs_cor":0.149,"p":0.0036801,"ptxt":"0.0036801"},
{"cell":"Dendritic cells activated","cor":-0.216,"abs_cor":0.216,"p":2.39e-5,"ptxt":"2.39e-05"},
{"cell":"T cells follicular helper","cor":-0.243,"abs_cor":0.243,"p":1.38e-6,"ptxt":"1.38e-06"}
]
},
"spacing":2,
"resolve":{"scale":{"color":"independent","size":"independent"},"legend":{"color":"independent","size":"independent"}},
"vconcat":[
{"hconcat":[
 {"width":1,"height":1,"data":{"values":[{}]},"mark":{"type":"text","text":""}},
 {
  "width":250,"height":146,
  "title":{"text":"A","offset":6},
  "data":{"name":"samples"},
  "transform":[{"fold":["a","b","c","d","e","f","g","h","i","j","k","l","m","n","o","p","q","r","s","t","u","v"],"as":["key","val"]},{"filter":"isValid(datum.val)"}],
  "mark":{"type":"bar"},
  "encoding":{
   "x":{"field":"id","type":"ordinal","scale":{"paddingInner":0,"paddingOuter":0},"axis":{"labels":false,"ticks":false,"title":null,"domainColor":"#d9d9d9","domainWidth":2}},
   "y":{"field":"val","type":"quantitative","stack":"normalize","scale":{"domain":[0,1]},"axis":{"values":[0,0.2,0.4,0.6,0.8,1],"format":".0%","labelExpr":"datum.value==0?'':datum.label","title":"Relative Percent","domain":false,"grid":false,"tickSize":3}},
   "color":{"field":"key","type":"nominal","scale":{"domain":["a","b","c","d","e","f","g","h","i","j","k","l","m","n","o","p","q","r","s","t","u","v"],"range":["#962828","#964628","#966428","#968228","#8c9628","#6e9628","#509628","#329628","#28963c","#28965a","#289678","#289696","#287896","#285a96","#283c96","#322896","#502896","#6e2896","#8c2896","#962882","#962864","#962846"]},
    "legend":{"title":null,"labelExpr":"['B cells naive','B cells memory','Plasma cells','T cells CD8','T cells CD4 naive','T cells CD4 memory resting','T cells CD4 memory activated','T cells follicular helper','T cells regulatory (Tregs)','T cells gamma delta','NK cells resting','NK cells activated','Monocytes','Macrophages M0','Macrophages M1','Macrophages M2','Dendritic cells resting','Dendritic cells activated','Mast cells resting','Mast cells activated','Eosinophils','Neutrophils'][indexof('abcdefghijklmnopqrstuv',datum.value)]","labelFontSize":4.3,"symbolSize":6,"symbolType":"square","rowPadding":0.3,"offset":6,"labelOffset":2,"padding":3}},
   "order":{"field":"key","type":"ordinal","sort":"ascending"}
  }
 },
 {
  "width":287,"height":132,
  "title":{"text":"B","offset":4},
  "view":{"stroke":"#555"},
  "encoding":{"x":{"field":"t","type":"nominal","scale":{"type":"point","padding":0.85},"axis":{"title":null,"labelAngle":-45,"labelAlign":"right","labelBaseline":"top","labelFontSize":4.3,"domain":false,"labelExpr":"['B cells naive','B cells memory','Plasma cells','T cells CD8','T cells CD4 naive','T cells CD4 memory resting','T cells CD4 memory activated','T cells follicular helper','T cells regulatory (Tregs)','T cells gamma delta','NK cells resting','NK cells activated','Monocytes','Macrophages M0','Macrophages M1','Macrophages M2','Dendritic cells resting','Dendritic cells activated','Mast cells resting','Mast cells activated','Eosinophils','Neutrophils'][indexof('abcdefghijklmnopqrstuv',datum.value)]"}}},
  "layer":[
   {"data":{"name":"vio"},"transform":[{"filter":"datum.g=='L'"}],
    "mark":{"type":"trail","xOffset":-2.4,"color":{"gradient":"linear","x1":0,"y1":1,"x2":0,"y2":0,"stops":[{"offset":0,"color":"#00c000"},{"offset":0.35,"color":"#0e9a0e"},{"offset":0.75,"color":"#1c3a1c"},{"offset":1,"color":"#555555"}]}},
    "encoding":{"y":{"field":"y","type":"quantitative","title":"Fraction","scale":{"domain":[-0.0205,0.6],"nice":false,"zero":false},"axis":{"values":[0,0.1,0.2,0.3,0.4,0.5,0.6],"format":".1f","grid":false,"domain":false,"labelFontSize":5}},
     "size":{"field":"w","type":"quantitative","scale":{"domain":[0,1],"range":[0.5,6.5]},"legend":null},
     "detail":{"field":"t"},"order":{"field":"y","type":"quantitative"}}},
   {"data":{"name":"vio"},"transform":[{"filter":"datum.g=='H'"}],
    "mark":{"type":"trail","xOffset":2.4,"color":{"gradient":"linear","x1":0,"y1":1,"x2":0,"y2":0,"stops":[{"offset":0,"color":"#e00000"},{"offset":0.35,"color":"#b00c0c"},{"offset":0.75,"color":"#3a1c1c"},{"offset":1,"color":"#555555"}]}},
    "encoding":{"y":{"field":"y","type":"quantitative","title":"Fraction"},
     "size":{"field":"w","type":"quantitative","legend":null},
     "detail":{"field":"t"},"order":{"field":"y","type":"quantitative"}}},
   {"data":{"name":"med"},"mark":{"type":"square","xOffset":-2.4,"size":4,"color":"white","opacity":1},
    "encoding":{"y":{"field":"l","type":"quantitative","title":"Fraction"}}},
   {"data":{"name":"med"},"mark":{"type":"square","xOffset":2.4,"size":4,"color":"white","opacity":1},
    "encoding":{"y":{"field":"h","type":"quantitative","title":"Fraction"}}},
   {"data":{"name":"vio"},"mark":{"type":"square","opacity":0},
    "encoding":{"y":{"field":"y","type":"quantitative","title":"Fraction"},
     "color":{"field":"g","type":"nominal","scale":{"domain":["L","H"],"range":["#00d000","#e00000"]},"legend":{"orient":"top-right","title":null,"labelExpr":"datum.value=='L'?'low risk':'high risk'","fillColor":"white","strokeColor":"#777","padding":4,"labelFontSize":6.5,"symbolType":"square","symbolSize":36,"symbolOpacity":1,"offset":0,"rowPadding":3}}}},
   {"data":{"name":"pv"},"mark":{"type":"tick","orient":"horizontal","size":5.4,"thickness":0.6,"color":"#999","opacity":1},
    "encoding":{"y":{"field":"y","type":"quantitative","title":"Fraction"}}},
   {"data":{"name":"pv"},"mark":{"type":"tick","orient":"vertical","size":3,"thickness":0.6,"color":"#999","opacity":1,"xOffset":-2.5,"yOffset":1.5},
    "encoding":{"y":{"field":"y","type":"quantitative","title":"Fraction"}}},
   {"data":{"name":"pv"},"mark":{"type":"tick","orient":"vertical","size":3,"thickness":0.6,"color":"#999","opacity":1,"xOffset":2.5,"yOffset":1.5},
    "encoding":{"y":{"field":"y","type":"quantitative","title":"Fraction"}}},
   {"data":{"name":"pv"},"mark":{"type":"text","fontSize":4.3,"dy":-1,"baseline":"bottom","color":"#333"},
    "encoding":{"y":{"field":"y","type":"quantitative","title":"Fraction"},"text":{"field":"p"}}}
  ]
 }
],"spacing":0,"resolve":{"scale":{"color":"independent","size":"independent"},"legend":{"color":"independent","size":"independent"}}},
{"hconcat":[
 {"width":1,"height":1,"data":{"values":[{}]},"mark":{"type":"text","text":""}},
 {
  "width":207,"height":287,
  "title":{"text":"C","orient":"left","angle":0,"anchor":"end","baseline":"top","align":"right","offset":-3},
  "view":{"stroke":"#cccccc"},
  "data":{"name":"chaf"},
  "encoding":{"y":{"field":"cell","type":"nominal","sort":null,"scale":{"type":"point","padding":0.6},"axis":{"title":"CHAF1A","labelFontSize":4.5,"grid":true,"gridColor":"#ebebeb","domain":false,"tickSize":2,"labelPadding":1}}},
  "layer":[
   {"mark":{"type":"rule","color":"#6e6e6e","strokeWidth":0.9},
    "encoding":{"x":{"field":"cor","type":"quantitative","title":"cor","scale":{"domain":[-0.239,0.535],"nice":false,"zero":false},
     "axis":{"values":[-0.2,-0.1,0,0.1,0.2,0.3,0.4,0.5],"labelExpr":"abs(round(datum.value*10))%2==0?format(datum.value,'.1f'):''","tickOpacity":{"condition":{"test":"abs(round(datum.value*10))%2==0","value":1},"value":0},"grid":true,"gridColor":{"condition":{"test":"abs(round(datum.value*10))%2==0","value":"#e8e8e8"},"value":"#f3f3f3"},"domain":false,"titlePadding":2}},
     "x2":{"datum":0}}},
   {"mark":{"type":"circle","opacity":1},
    "encoding":{"x":{"field":"cor","type":"quantitative"},
     "size":{"field":"abs_cor","type":"quantitative","scale":{"domain":[0.0025,0.33],"range":[1.5,42]},"legend":{"title":"abs_cor","values":[0.1,0.2,0.3],"symbolFillColor":"black","symbolStrokeColor":"black","labelFontSize":5,"offset":6,"padding":2}},
     "color":{"field":"p","type":"quantitative","scale":{"scheme":"viridis"},"legend":{"title":"pvalue","values":[0.25,0.5,0.75],"format":".2f","gradientLength":36,"gradientThickness":7,"labelFontSize":5,"offset":6,"padding":2}}}},
   {"mark":{"type":"text","fontSize":6,"color":"#111"},
    "encoding":{"x":{"datum":0.45},"text":{"field":"ptxt"}}}
  ]
 },
 {
  "width":207,"height":287,
  "title":{"text":"D","orient":"left","angle":0,"anchor":"end","baseline":"top","align":"right","offset":-3},
  "view":{"stroke":"#cccccc"},
  "data":{"name":"rmi"},
  "encoding":{"y":{"field":"cell","type":"nominal","sort":null,"scale":{"type":"point","padding":0.6},"axis":{"title":"RMI1","labelFontSize":4.5,"grid":true,"gridColor":"#ebebeb","domain":false,"tickSize":2,"labelPadding":1}}},
  "layer":[
   {"mark":{"type":"rule","color":"#6e6e6e","strokeWidth":0.9},
    "encoding":{"x":{"field":"cor","type":"quantitative","title":"cor","scale":{"domain":[-0.282,0.536],"nice":false,"zero":false},
     "axis":{"values":[-0.25,-0.125,0,0.125,0.25,0.375,0.5],"labelExpr":"abs(round(datum.value*8))%2==0?format(datum.value,'.2f'):''","tickOpacity":{"condition":{"test":"abs(round(datum.value*8))%2==0","value":1},"value":0},"grid":true,"gridColor":{"condition":{"test":"abs(round(datum.value*8))%2==0","value":"#e8e8e8"},"value":"#f3f3f3"},"domain":false,"titlePadding":2}},
     "x2":{"datum":0}}},
   {"mark":{"type":"circle","opacity":1},
    "encoding":{"x":{"field":"cor","type":"quantitative"},
     "size":{"field":"abs_cor","type":"quantitative","scale":{"domain":[0.0015,0.253],"range":[1.5,42]},"legend":{"title":"abs_cor","values":[0.05,0.1,0.15,0.2,0.25],"symbolFillColor":"black","symbolStrokeColor":"black","labelFontSize":5,"offset":6,"padding":2}},
     "color":{"field":"p","type":"quantitative","scale":{"scheme":"viridis"},"legend":{"title":"pvalue","values":[0.25,0.5,0.75],"format":".2f","gradientLength":36,"gradientThickness":7,"labelFontSize":5,"offset":6,"padding":2}}}},
   {"mark":{"type":"text","fontSize":6,"color":"#111"},
    "encoding":{"x":{"datum":0.45},"text":{"field":"ptxt"}}}
  ]
 }
],"spacing":0,"resolve":{"scale":{"color":"independent","size":"independent"},"legend":{"color":"independent","size":"independent"}}}
]
}
